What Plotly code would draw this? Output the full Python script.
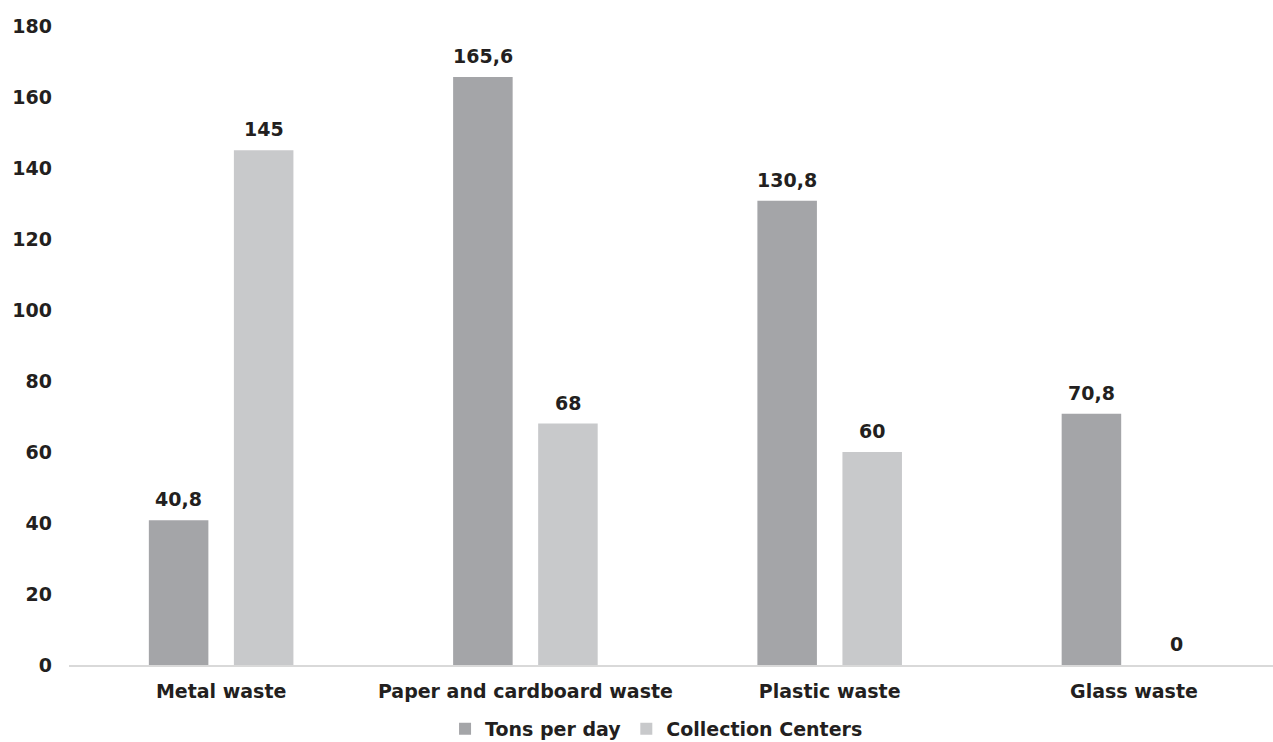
import plotly.graph_objects as go

categories = ["Metal waste", "Paper and cardboard waste", "Plastic waste", "Glass waste"]
tons_per_day = [40.8, 165.6, 130.8, 70.8]
collection_centers = [145, 68, 60, 0]
series_names = ["Tons per day", "Collection Centers"]
y_ticks = [0, 20, 40, 60, 80, 100, 120, 140, 160, 180]

DARK = "#A4A5A8"
LIGHT = "#C8C9CB"
TEXT = "#231F20"
FONT = "DejaVu Sans"
FS = 19


def fmt(v):
    return f"{v:g}".replace(".", ",")


fig = go.Figure()
fig.add_trace(go.Bar(x=categories, y=tons_per_day, name=series_names[0],
                     marker=dict(color=DARK, line=dict(width=0))))
fig.add_trace(go.Bar(x=categories, y=collection_centers, name=series_names[1],
                     marker=dict(color=LIGHT, line=dict(width=0))))

# value labels above each bar, offset to the bar's slot within its group
slot_px = 85
for vals, shift in ((tons_per_day, -slot_px / 2), (collection_centers, slot_px / 2)):
    for cat, v in zip(categories, vals):
        fig.add_annotation(x=cat, y=v, text=fmt(v), showarrow=False,
                           xshift=shift, yshift=21, yanchor="middle",
                           font=dict(family=FONT, size=FS, color=TEXT, weight="bold"))

fig.update_layout(
    width=1273, height=742,
    margin=dict(l=69, r=0, t=26, b=77, autoexpand=False),
    plot_bgcolor="white", paper_bgcolor="white",
    barmode="group", bargap=0.441, bargroupgap=0.3,
    font=dict(family=FONT, size=FS, color=TEXT, weight="bold"),
    showlegend=True,
    legend=dict(orientation="h", x=0.488, xanchor="center", y=-0.1, yanchor="middle",
                font=dict(family=FONT, size=FS, color=TEXT, weight="bold"),
                itemwidth=30, tracegroupgap=0, traceorder="normal"),
    xaxis=dict(range=[-0.5, 3.457], showgrid=False, showline=True, linecolor="#D9D9D9",
               linewidth=1.5, ticks="", ticklabelstandoff=8,
               tickfont=dict(size=FS, color=TEXT, weight="bold")),
    yaxis=dict(range=[0, 180], tickvals=y_ticks, showgrid=False, showline=False, zeroline=False,
               ticks="", ticklabelstandoff=16,
               tickfont=dict(size=FS, color=TEXT, weight="bold")),
)

fig.write_html("out.html")
